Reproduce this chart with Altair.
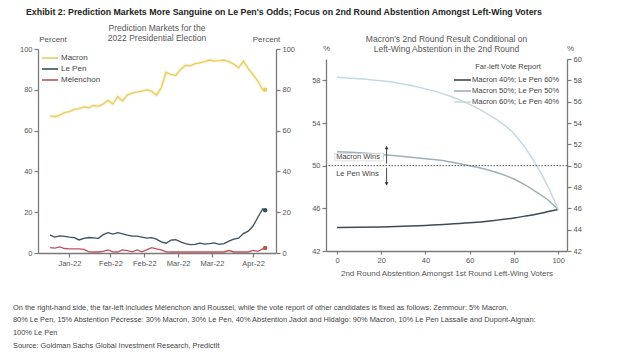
import altair as alt
import pandas as pd

# ---------------- data: left panel (prediction markets) ----------------
dates = [
    "2022-01-07", "2022-01-09", "2022-01-11", "2022-01-13", "2022-01-15", "2022-01-17",
    "2022-01-19", "2022-01-21", "2022-01-23", "2022-01-25", "2022-01-27", "2022-01-29",
    "2022-01-31", "2022-02-02", "2022-02-04", "2022-02-06", "2022-02-08", "2022-02-10",
    "2022-02-12", "2022-02-14", "2022-02-16", "2022-02-18", "2022-02-20", "2022-02-22",
    "2022-02-24", "2022-02-26", "2022-02-28", "2022-03-02", "2022-03-04", "2022-03-06",
    "2022-03-08", "2022-03-10", "2022-03-12", "2022-03-14", "2022-03-16", "2022-03-18",
    "2022-03-20", "2022-03-22", "2022-03-24", "2022-03-26", "2022-03-28", "2022-03-30",
    "2022-04-01", "2022-04-03", "2022-04-05", "2022-04-06",
]
macron = [
    67.2, 66.8, 67.6, 68.8, 69.3, 70.4, 70.8, 71.6, 71.2, 72.3, 72.0, 73.0,
    74.8, 73.0, 76.6, 74.5, 77.5, 78.4, 79.0, 79.4, 80.0, 79.4, 77.3, 81.0,
    88.5, 87.6, 87.0, 90.0, 92.0, 91.8, 92.8, 93.2, 93.8, 94.6, 94.1, 94.3,
    94.6, 93.8, 92.6, 90.8, 94.0, 90.5, 87.5, 84.2, 80.0, 80.0,
]
lepen = [
    8.8, 7.8, 8.4, 8.2, 7.8, 7.5, 6.4, 7.2, 7.6, 7.4, 7.2, 9.0,
    10.0, 9.3, 10.0, 9.4, 8.8, 8.3, 8.3, 7.8, 7.3, 7.5, 6.8, 5.5,
    4.8, 6.3, 6.5, 5.5, 4.6, 4.1, 4.2, 4.8, 4.4, 4.6, 5.0, 4.2,
    4.6, 5.8, 6.8, 7.3, 9.5, 10.7, 13.2, 17.5, 21.6, 21.0,
]
melenchon = [
    2.6, 2.4, 3.0, 2.2, 2.0, 2.0, 2.0, 1.8, 0.6, 0.5, 0.5, 0.8,
    1.5, 0.6, 0.5, 1.5, 1.2, 0.6, 1.5, 0.6, 1.5, 2.6, 2.0, 1.5,
    0.6, 0.5, 0.5, 0.5, 0.5, 0.5, 0.5, 0.5, 0.5, 0.5, 0.5, 0.5,
    0.5, 1.2, 0.5, 0.5, 0.5, 0.5, 1.3, 0.8, 2.0, 2.5,
]
candidates = ["Macron", "Le Pen", "Mélenchon"]
cand_colors = ["#e9cd66", "#3a4f5c", "#c0505e"]
x_tick_dates = ["2022-01-15", "2022-02-01", "2022-02-15", "2022-03-01", "2022-03-15", "2022-04-01"]
x_domain_dates = ["2022-01-02", "2022-04-10T12:00:00"]
pct_ticks = [0, 20, 40, 60, 80, 100]

# ---------------- data: right panel (2nd round scenarios) ----------------
abstention = [0, 10, 20, 30, 40, 50, 60, 70, 80, 85, 90, 95, 100]
m40 = [44.2, 44.22, 44.26, 44.32, 44.4, 44.5, 44.64, 44.84, 45.1, 45.27, 45.45, 45.67, 45.9]
m50 = [51.3, 51.2, 51.05, 50.87, 50.65, 50.4, 50.0, 49.5, 48.75, 48.2, 47.55, 46.85, 45.9]
m60 = [58.3, 58.15, 57.95, 57.65, 57.2, 56.6, 55.75, 54.6, 53.0, 51.7, 50.1, 48.2, 45.9]
scenarios = ["Macron 40%; Le Pen 60%", "Macron 50%; Le Pen 50%", "Macron 60%; Le Pen 40%"]
scen_colors = ["#3e4b53", "#9fb1b9", "#c3d9e2"]
abst_ticks = [0, 20, 40, 60, 80, 100]
share_ticks = [42, 44, 46, 48, 50, 52, 54, 56, 58, 60]
threshold = [50]
win_labels = ["Macron Wins", "Le Pen Wins"]

header = ("Exhibit 2: Prediction Markets More Sanguine on Le Pen's Odds; "
          "Focus on 2nd Round Abstention Amongst Left-Wing Voters")
footnote = [
    "On the right-hand side, the far-left includes Mélenchon and Roussel, while the vote report of other candidates is fixed as follows: Zemmour: 5% Macron,",
    "80% Le Pen, 15% Abstention Pécresse: 30% Macron, 30% Le Pen, 40% Abstention Jadot and Hidalgo: 90% Macron, 10% Le Pen Lassalle and Dupont-Aignan:",
    "100% Le Pen",
    "Source: Goldman Sachs Global Investment Research, PredictIt",
]

FONT = "Liberation Sans, Arial, sans-serif"
AX = "#7a7a7a"
LAB = "#555555"
LINE_SYMBOL = "M-2,0L2,0"


def ms(s):
    return int(pd.Timestamp(s, tz="UTC").timestamp() * 1000)


# ---------------- left panel ----------------
series = [macron, lepen, melenchon]
left_df = pd.DataFrame({
    "date": [d for _ in series for d in dates],
    "value": [v for s in series for v in s],
    "candidate": [c for c, s in zip(candidates, series) for _ in s],
})
last_df = pd.DataFrame({
    "date": [dates[-1]] * 3,
    "value": [s[-1] for s in series],
    "candidate": candidates,
})

xL = alt.X(
    "date:T",
    scale=alt.Scale(type="utc", domain=[ms(d) for d in x_domain_dates], nice=False),
    axis=alt.Axis(values=[ms(d) for d in x_tick_dates], labelExpr="utcFormat(datum.value, '%b-%y')",
                  title=None, labelPadding=2, tickSize=4),
)
yscaleL = alt.Scale(domain=[0, 100], nice=False, zero=False)
axis_left_L = alt.Axis(values=pct_ticks, title="Percent", titleAngle=0, titleX=14.5, titleY=-10,
                       titleAlign="center", titleBaseline="middle", orient="left")
axis_right_L = alt.Axis(values=pct_ticks, title="Percent", titleAngle=0, titleX=-10, titleY=-10,
                        titleAlign="center", titleBaseline="middle", orient="right")
colorL_scale = alt.Scale(domain=candidates, range=cand_colors)

halo = alt.Chart(left_df).transform_filter(alt.datum.candidate == "Macron").mark_line(
    strokeWidth=3.5, opacity=0.35, color="#f2dc8c"
).encode(x=xL, y=alt.Y("value:Q", scale=yscaleL, axis=None))

lines = alt.Chart(left_df).mark_line(strokeWidth=1.3).encode(
    x=xL,
    y=alt.Y("value:Q", scale=yscaleL, axis=axis_left_L),
    color=alt.Color("candidate:N", scale=colorL_scale, sort=candidates,
                    legend=alt.Legend(title=None, orient="none", legendX=7, legendY=4,
                                      symbolType=LINE_SYMBOL, symbolStrokeWidth=1.6,
                                      symbolSize=64, labelFontSize=8, labelColor="#444",
                                      labelFont=FONT, rowPadding=2, labelOffset=6)),
)
dots = alt.Chart(last_df).mark_circle(size=20, opacity=1).encode(
    x=xL,
    y=alt.Y("value:Q", scale=yscaleL, axis=axis_right_L),
    color=alt.Color("candidate:N", scale=colorL_scale, legend=None),
)

left = alt.layer(halo, lines, dots).resolve_scale(y="independent").properties(
    width=238, height=204,
    title=alt.TitleParams(["Prediction Markets for the", "2022 Presidential Election"],
                          fontSize=8.5, font=FONT, fontWeight="normal", color=LAB,
                          lineHeight=9.5, anchor="middle", frame="group", offset=0, dy=7),
)

# ---------------- right panel ----------------
curves_src = [m40, m50, m60]
right_df = pd.DataFrame({
    "abst": [a for _ in curves_src for a in abstention],
    "share": [v for s in curves_src for v in s],
    "scenario": [n for n, s in zip(scenarios, curves_src) for _ in s],
})

xR = alt.X("abst:Q", scale=alt.Scale(domain=[-5, 104], nice=False, zero=False),
           axis=alt.Axis(values=abst_ticks, title="2nd Round Abstention Amongst 1st Round Left-Wing Voters",
                         titlePadding=6, tickSize=3, labelPadding=2))
yscaleR = alt.Scale(domain=[42, 60], range=[202, 10], nice=False, zero=False)
axis_left_R = alt.Axis(values=share_ticks, title="%", titleAngle=0, titleX=0, titleY=-1,
                       titleAlign="center", titleBaseline="middle", orient="left")
axis_right_R = alt.Axis(values=share_ticks, title="%", titleAngle=0, titleX=3, titleY=-1,
                        titleAlign="center", titleBaseline="middle", orient="right")

curves = alt.Chart(right_df).mark_line(strokeWidth=1.5, interpolate="monotone").encode(
    x=xR,
    y=alt.Y("share:Q", scale=yscaleR, axis=axis_left_R),
    color=alt.Color("scenario:N", scale=alt.Scale(domain=scenarios, range=scen_colors), sort=scenarios,
                    legend=alt.Legend(title="Far-left Vote Report", orient="none", legendX=131, legendY=14,
                                      titleAnchor="middle", titleFontSize=7.5, titleFontWeight="normal",
                                      titleColor="#444", titleFont=FONT, titlePadding=4,
                                      symbolType=LINE_SYMBOL, symbolStrokeWidth=1.6, symbolSize=72,
                                      labelFontSize=7.5, labelColor="#444", labelFont=FONT,
                                      rowPadding=2, labelOffset=4)),
)

box_df = pd.DataFrame({"abst": [-1.0], "abst2": [21.0], "share": [50.45], "share2": [51.15]})
box = alt.Chart(box_df).mark_rect(fill="white", stroke="#c8c8c8", strokeWidth=0.6).encode(
    x="abst:Q", x2="abst2:Q", y=alt.Y("share:Q", scale=yscaleR), y2="share2:Q")

label_df = pd.DataFrame({"abst": [-0.4, -0.4], "share": [50.8, 49.2], "label": win_labels})
labels = alt.Chart(label_df).mark_text(align="left", baseline="middle", fontSize=7.5,
                                       font=FONT, color="#444").encode(
    x="abst:Q", y=alt.Y("share:Q", scale=yscaleR), text="label:N")

arrow_df = pd.DataFrame({"abst": [22.4, 22.4], "share": [50.2, 49.8], "share2": [51.8, 48.2]})
shafts = alt.Chart(arrow_df).mark_rule(color="#333", strokeWidth=0.9).encode(
    x="abst:Q", y=alt.Y("share:Q", scale=yscaleR), y2="share2:Q")
head_df = pd.DataFrame({"abst": [22.4, 22.4], "share": [51.7, 48.3], "shape": ["triangle-up", "triangle-down"]})
heads = alt.Chart(head_df).mark_point(filled=True, size=14, color="#333", opacity=1).encode(
    x="abst:Q", y=alt.Y("share:Q", scale=yscaleR), shape=alt.Shape("shape:N", scale=None))

rule_df = pd.DataFrame({"share": threshold})
rule = alt.Chart(rule_df).mark_rule(color="#555", strokeWidth=1, strokeDash=[1.5, 1.5]).encode(
    y=alt.Y("share:Q", scale=yscaleR, axis=axis_right_R))

right = alt.layer(
    alt.layer(curves, box, labels, shafts, heads),
    rule,
).resolve_scale(y="independent").properties(
    width=241, height=202,
    title=alt.TitleParams(["Macron's 2nd Round Result Conditional on", "Left-Wing Abstention in the 2nd Round"],
                          fontSize=8.5, font=FONT, fontWeight="normal", color=LAB,
                          lineHeight=9.5, anchor="middle", frame="group", offset=0, dy=9),
)

inner = alt.hconcat(left, right, spacing=50, bounds="flush").resolve_scale(
    color="independent").resolve_legend(color="independent").properties(
    title=alt.TitleParams(footnote, orient="bottom", anchor="start", frame="group",
                          fontSize=7.4, font=FONT, fontWeight="normal", color="#444",
                          lineHeight=12.8, offset=26, dx=-25),
)

chart = alt.vconcat(inner).properties(
    title=alt.TitleParams(header, anchor="start", frame="group", fontSize=8.8, font=FONT,
                          fontWeight="bold", color="#222", offset=7, dx=-12),
    padding={"left": 5, "top": 0, "right": 5, "bottom": 0},
    background="white",
).configure_view(stroke=None).configure_axis(
    grid=False, domainColor=AX, domainWidth=1.3, tickColor=AX, tickWidth=1.2, tickSize=4,
    labelFontSize=7.5, labelColor=LAB, labelFont=FONT, titleFont=FONT, titleFontSize=8,
    titleFontWeight="normal", titleColor=LAB, labelPadding=2, labelOverlap=False,
)

chart.save("out.html", embed_options={"renderer": "svg", "actions": False})
